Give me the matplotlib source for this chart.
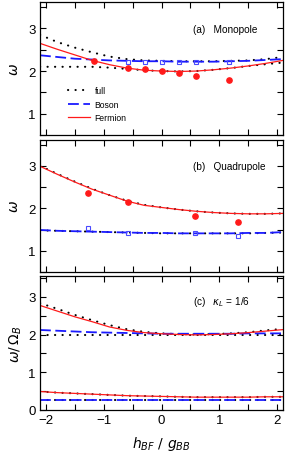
import matplotlib
matplotlib.use("Agg")
import matplotlib.pyplot as plt
import numpy as np

plt.rcParams['font.family'] = ['Liberation Sans', 'DejaVu Sans']
plt.rcParams['mathtext.fontset'] = 'dejavusans'

# ---------------- data ----------------
x = [-2.1, -1.8, -1.5, -1.2, -0.9, -0.6, -0.3, 0.0, 0.3, 0.6, 0.9, 1.2, 1.5, 1.8, 2.1]

# panel (a) Monopole
a_fermion = [2.65, 2.51, 2.38, 2.25, 2.15, 2.07, 2.02, 2.00, 1.99, 2.00, 2.03, 2.07, 2.12, 2.18, 2.25]
a_boson   = [2.37, 2.33, 2.29, 2.27, 2.25, 2.24, 2.23, 2.23, 2.22, 2.22, 2.22, 2.23, 2.24, 2.26, 2.28]
a_full_up = [2.85, 2.68, 2.55, 2.44, 2.34, 2.28, 2.25, 2.24, 2.23, 2.23, 2.23, 2.24, 2.25, 2.28, 2.33]
a_full_lo = [2.10, 2.10, 2.10, 2.10, 2.08, 2.05, 2.02, 2.00, 1.99, 2.00, 2.03, 2.07, 2.12, 2.16, 2.20]
a_dots_x  = [-1.16, -0.58, -0.29, 0.0, 0.30, 0.59, 1.17]
a_dots_y  = [2.23, 2.08, 2.04, 2.00, 1.95, 1.88, 1.79]
a_sq_x    = [-0.58, -0.29, 0.0, 0.30, 0.59, 1.17]
a_sq_y    = [2.22, 2.22, 2.22, 2.22, 2.22, 2.22]

# panel (b) Quadrupole
b_fermion = [2.99, 2.80, 2.62, 2.45, 2.31, 2.17, 2.07, 2.02, 1.97, 1.93, 1.90, 1.88, 1.87, 1.87, 1.88]
b_full_up = [3.00, 2.81, 2.63, 2.46, 2.31, 2.18, 2.08, 2.02, 1.97, 1.93, 1.90, 1.88, 1.87, 1.87, 1.88]
b_boson   = [1.49, 1.47, 1.46, 1.45, 1.44, 1.43, 1.42, 1.42, 1.41, 1.41, 1.41, 1.41, 1.42, 1.42, 1.44]
b_full_lo = [1.48, 1.47, 1.46, 1.45, 1.44, 1.43, 1.42, 1.41, 1.41, 1.41, 1.41, 1.41, 1.41, 1.42, 1.43]
b_dots_x  = [-1.27, -0.58, 0.58, 1.33]
b_dots_y  = [2.37, 2.16, 1.83, 1.67]
b_sq_x    = [-1.27, -0.58, 0.58, 1.33]
b_sq_y    = [1.53, 1.42, 1.43, 1.34]

# panel (c) kappa_L = 1/6
c_fermion_up = [2.77, 2.62, 2.47, 2.34, 2.20, 2.11, 2.05, 2.02, 2.00, 1.99, 2.00, 2.02, 2.05, 2.09, 2.13]
c_full_up    = [2.83, 2.68, 2.52, 2.38, 2.25, 2.14, 2.07, 2.03, 2.01, 2.00, 2.01, 2.03, 2.06, 2.11, 2.15]
c_boson_up   = [2.12, 2.10, 2.08, 2.06, 2.05, 2.04, 2.03, 2.02, 2.02, 2.02, 2.02, 2.02, 2.03, 2.03, 2.03]
c_full_mid   = [2.00, 2.00, 2.00, 2.00, 2.00, 2.00, 2.00, 2.00, 2.00, 2.00, 2.00, 2.00, 2.00, 2.00, 2.00]
c_fermion_lo = [0.49, 0.46, 0.44, 0.42, 0.40, 0.38, 0.37, 0.36, 0.35, 0.34, 0.34, 0.34, 0.34, 0.35, 0.35]
c_full_lo2   = [0.49, 0.46, 0.44, 0.42, 0.40, 0.38, 0.37, 0.36, 0.35, 0.34, 0.34, 0.34, 0.34, 0.35, 0.35]
c_boson_lo   = [0.27, 0.27, 0.27, 0.27, 0.27, 0.27, 0.27, 0.27, 0.27, 0.27, 0.27, 0.27, 0.27, 0.27, 0.27]
c_full_lo    = [0.27, 0.27, 0.27, 0.27, 0.27, 0.27, 0.27, 0.27, 0.27, 0.27, 0.27, 0.27, 0.27, 0.27, 0.27]

xticks = [-2, -1, 0, 1, 2]
xticklabels = ['\u22122', '\u22121', '0', '1', '2']

# ---------------- style ----------------
RED = '#ff1a1a'
BLUE = '#1a1aff'
full_kw = dict(color='black', lw=1.5, linestyle=(0, (0.1, 3.5)), dash_capstyle='round')
boson_kw = dict(color=BLUE, lw=1.3, linestyle=(0, (6, 2.5)))
ferm_kw = dict(color=RED, lw=0.9)
dot_kw = dict(linestyle='none', marker='o', ms=3.8, color=RED, mec=RED)
sq_kw = dict(linestyle='none', marker='s', ms=3.0, mfc='none', mec='#4a4aff', mew=0.8)

fig = plt.figure(figsize=(2.86, 4.56), dpi=100)
L, W = 40 / 286, 243 / 286
ax_a = fig.add_axes([L, 1 - 136 / 456, W, 133 / 456])
ax_b = fig.add_axes([L, 1 - 273 / 456, W, 132.5 / 456])
ax_c = fig.add_axes([L, 1 - 411 / 456, W, 134 / 456])


def style(ax, ylim, yticks):
    ax.set_xticks(xticks)
    ax.set_xticks(np.arange(-2, 2.01, 0.5), minor=True)
    ax.set_yticks(yticks)
    ax.set_yticks([t for t in np.arange(0, 3.51, 0.5) if ylim[0] <= t <= ylim[1]], minor=True)
    ax.set_xlim(-2.1, 2.1)
    ax.set_ylim(*ylim)
    ax.tick_params(which='both', direction='in', top=True, right=True,
                   length=4, width=0.8, labelsize=9.5, pad=3)
    for s in ax.spines.values():
        s.set_linewidth(0.9)


# panel a
ax = ax_a
ax.plot(x, a_full_up, **full_kw, label='full')
ax.plot(x, a_full_lo, **full_kw)
ax.plot(x, a_boson, **boson_kw, label='Boson')
ax.plot(x, a_fermion, **ferm_kw, label='Fermion')
ax.plot(a_sq_x, a_sq_y, **sq_kw)
ax.plot(a_dots_x, a_dots_y, **dot_kw)
style(ax, (0.5, 3.62), [1, 2, 3])
ax.set_xticklabels([])
ax.text(0.63, 0.80, '(a)   Monopole', transform=ax.transAxes, fontsize=7.2, va='center')
ax.set_ylabel(r'$\omega$', fontsize=10, labelpad=5)
ax.legend(loc='upper left', bbox_to_anchor=(0.115, 0.37), frameon=False, fontsize=6.2,
          handlelength=2.6, handletextpad=0.5, labelspacing=0.55, borderpad=0, borderaxespad=0)

# panel b
ax = ax_b
ax.plot(x, b_full_up, **full_kw)
ax.plot(x, b_full_lo, **full_kw)
ax.plot(x, b_boson, **boson_kw)
ax.plot(x, b_fermion, **ferm_kw)
ax.plot(b_sq_x, b_sq_y, **sq_kw)
ax.plot(b_dots_x, b_dots_y, **dot_kw)
style(ax, (0.5, 3.62), [1, 2, 3])
ax.set_xticklabels([])
ax.text(0.63, 0.80, '(b)   Quadrupole', transform=ax.transAxes, fontsize=7.2, va='center')
ax.set_ylabel(r'$\omega$', fontsize=10, labelpad=5)

# panel c
ax = ax_c
ax.plot(x, c_full_up, **full_kw)
ax.plot(x, c_full_mid, **full_kw)
ax.plot(x, c_boson_up, **boson_kw)
ax.plot(x, c_fermion_up, **ferm_kw)
ax.plot(x, c_full_lo2, **full_kw)
ax.plot(x, c_full_lo, **full_kw)
ax.plot(x, c_boson_lo, **boson_kw)
ax.plot(x, c_fermion_lo, **ferm_kw)
style(ax, (0, 3.55), [0, 1, 2, 3])
ax.set_xticklabels(xticklabels)
ax.text(0.63, 0.81, r'(c)   $\kappa_L$ = 1/6', transform=ax.transAxes, fontsize=7.2, va='center')
ax.set_ylabel(r'$\omega/\,\Omega_B$', fontsize=10, labelpad=3)
ax.set_xlabel(r'$h_{BF}\ /\ g_{BB}$', fontsize=10, labelpad=6)

fig.savefig('out.png', dpi=100)
